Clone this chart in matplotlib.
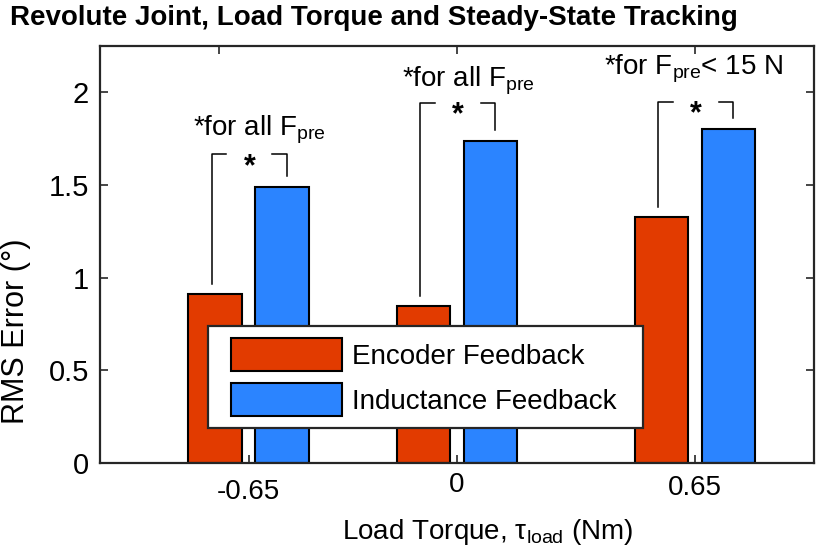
import numpy as np
import matplotlib.pyplot as plt
from matplotlib.patches import Patch, Rectangle
from matplotlib.transforms import ScaledTranslation

plt.rcParams['font.family'] = ['Liberation Sans', 'DejaVu Sans']
plt.rcParams['mathtext.fontset'] = 'custom'
plt.rcParams['mathtext.rm'] = 'Liberation Sans'
plt.rcParams['mathtext.it'] = 'Liberation Sans:italic'

# data
torque_labels = ['-0.65', '0', '0.65']
encoder_rms = [0.91, 0.845, 1.325]
inductance_rms = [1.49, 1.735, 1.80]
sig_notes = ['*for all F$_{\\rm pre}$', '*for all F$_{\\rm pre}$', '*for F$_{\\rm pre}$< 15 N']

# layout
group_x = np.array([0.125, 1.0, 2.0])
off = 0.141
w = 0.226
bracket_top = [1.665, 1.945, 1.95]
note_x = [-0.109, 0.770, 1.619]
note_y = [1.768, 2.032, 2.097]
red = '#E23B00'
blue = '#2B84FF'
dark = '#262626'

fig = plt.figure(figsize=(8.19, 5.6), dpi=100)
ax = fig.add_axes([0.1221, 0.1732, 0.8718, 0.7447])

ax.bar(group_x - off, encoder_rms, w, color=red, edgecolor='black', linewidth=1.5)
ax.bar(group_x + off, inductance_rms, w, color=blue, edgecolor='black', linewidth=1.5)

# significance brackets
gap = 0.097
for i in range(3):
    xl = group_x[i] - off - 0.015
    xr = group_x[i] + off + 0.02
    xm = (xl + xr) / 2
    top = bracket_top[i]
    ax.plot([xl, xl, xm - gap], [encoder_rms[i] + 0.055, top, top], color='black', lw=1.1)
    ax.plot([xm + gap, xr, xr], [top, top, inductance_rms[i] + 0.06], color='black', lw=1.1)
    ax.annotate('*', (xm, top), xytext=(0, -15), textcoords='offset points',
                ha='center', va='baseline', fontsize=22, fontweight='bold')
    ax.text(note_x[i], note_y[i], sig_notes[i], fontsize=20, ha='left', va='baseline')

ax.set_xlim(-0.5, 2.5)
ax.set_ylim(0, 2.25)
ax.set_xticks(group_x)
ax.set_xticklabels(torque_labels)
ax.set_yticks([0, 0.5, 1, 1.5, 2])
ax.set_yticklabels(['0', '0.5', '1', '1.5', '2'])
ax.tick_params(axis='both', direction='in', length=6, width=1.2, labelsize=20,
               color=dark, labelcolor='black', right=True)
ax.tick_params(axis='x', pad=9)
ax.tick_params(axis='y', pad=8, labelsize=21)
# small vertical shifts of the x tick labels as in the reference
for lab, dy in zip(ax.get_xticklabels(), [-3, 4, 1]):
    lab.set_transform(lab.get_transform() + ScaledTranslation(0, dy / 100, fig.dpi_scale_trans))
top_ax = ax.secondary_xaxis('top')
top_ax.set_xticks([0, 1, 2])
top_ax.set_xticklabels([])
top_ax.tick_params(direction='in', length=6, width=1.2, color=dark)
top_ax.spines['top'].set_visible(False)
for s in ax.spines.values():
    s.set_color(dark)
    s.set_linewidth(1.6)

ax.set_xlabel('Load Torque, \u03c4$_{\\rm load}$ (Nm)', fontsize=20)
ax.xaxis.set_label_coords(0.543, -0.13)
ax.set_ylabel('RMS Error (\u00b0)', fontsize=22)
ax.yaxis.set_label_coords(-0.097, 0.315)
fig.text(0.012, 0.968, 'Revolute Joint, Load Torque and Steady-State Tracking',
         fontsize=20, fontweight='bold', ha='left', va='center')

handles = [Patch(facecolor=red, edgecolor='black', linewidth=1.5),
           Patch(facecolor=blue, edgecolor='black', linewidth=1.5)]
leg = ax.legend(handles, ['Encoder Feedback', 'Inductance Feedback'], loc='lower left',
                bbox_to_anchor=(0.167, 0.084), borderaxespad=0, frameon=False,
                fontsize=20, handlelength=4.0, handleheight=1.45, handletextpad=0.36,
                labelspacing=0.43, borderpad=0.43)
leg.set_zorder(6)

# legend box with wider side padding
fig.canvas.draw()
bb = leg.get_window_extent()
inv = fig.transFigure.inverted()
x0, y0 = inv.transform((bb.x0 - 11, bb.y0))
x1, y1 = inv.transform((bb.x1 + 14, bb.y1))
ax.add_patch(Rectangle((x0, y0), x1 - x0, y1 - y0, transform=fig.transFigure,
                       facecolor='white', edgecolor=dark, linewidth=1.6, zorder=5,
                       clip_on=False))

fig.savefig('out.png', dpi=100)
